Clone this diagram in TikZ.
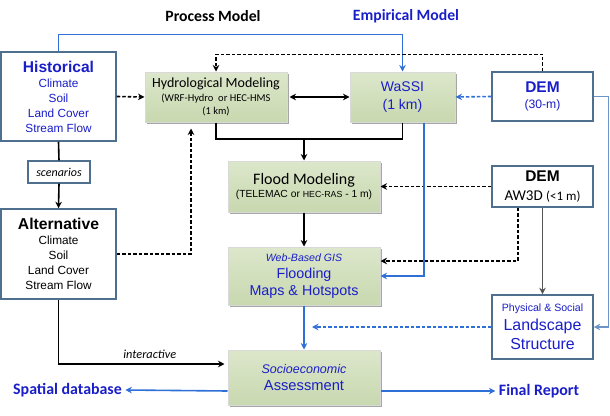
\documentclass[tikz,border=0pt]{standalone}
\usepackage{fontspec}
\setmainfont{Liberation Sans}
\newfontfamily\calfont{Carlito}
\usetikzlibrary{arrows.meta,shadows,calc}
\definecolor{txtblue}{HTML}{1A1EC8}
\definecolor{lineblue}{HTML}{2F6FD8}
\definecolor{lineblueb}{HTML}{6C94C8}
\definecolor{boxedge}{HTML}{4F6F8F}
\definecolor{greentop}{HTML}{DCE7CB}
\definecolor{greenbot}{HTML}{C8D8AF}
\definecolor{greyline}{HTML}{555555}
\newcommand\myfs[2]{\fontsize{#1}{#2}\selectfont}
\begin{document}
\begin{tikzpicture}[x=1pt,y=-1pt,
  outbox/.style={draw=boxedge, line width=1.5pt, fill=white, inner sep=0pt, align=center},
  greenbox/.style={draw=white!85!black, line width=1pt, top color=greentop, bottom color=greenbot,
    drop shadow={shadow xshift=1.5pt, shadow yshift=-1.5pt, opacity=0.35, fill=black},
    inner sep=0pt, align=center},
  arr/.style={-{Stealth[length=6.5pt,width=6.5pt]}, line width=1.6pt},
  dsh/.style={dash pattern=on 3.5pt off 2pt},
  lbl/.style={font=\calfont\bfseries\myfs{15.7}{16}}
]
\useasboundingbox (0,0) rectangle (610,415);

% titles
\node[lbl] (pm) at (213,16) {Process Model};
\node[lbl, text=txtblue] (em) at (406,16) {Empirical Model};

% left column
\node[outbox, minimum width=115pt, minimum height=89pt, text=txtblue, font=\myfs{11.8}{15}] (hist) at (58.5,96.5)
  {{\myfs{15.6}{15}\bfseries Historical}\\Climate\\Soil\\Land Cover\\Stream Flow};
\node[outbox, line width=1.1pt, minimum width=62pt, minimum height=22pt, font=\calfont\itshape\myfs{12}{14}] (scen) at (59,172) {scenarios};
\node[outbox, minimum width=115pt, minimum height=90pt, font=\myfs{11.8}{15}] (alt) at (58.5,254)
  {{\myfs{15.7}{15}\bfseries Alternative}\\Climate\\Soil\\Land Cover\\Stream Flow};

% green boxes
\node[greenbox, minimum width=142pt, minimum height=50pt, font=\calfont\myfs{10.5}{13.5}] (hydro) at (216,97)
  {{\myfs{14}{13.5}Hydrological Modeling}\\(WRF-Hydro\ \ or HEC-HMS\\(1 km)};
\node[greenbox, minimum width=105pt, minimum height=50pt, text=txtblue, font=\myfs{14}{18}] (wassi) at (402.5,97)
  {WaSSI\\(1 km)};
\node[greenbox, minimum width=152pt, minimum height=51pt, font=\myfs{10.3}{13.5}] (flood) at (304,186.5)
  {{\calfont\myfs{16}{13.5}Flood Modeling}\\(TELEMAC or {\myfs{8.8}{13.5}HEC-RAS} - 1 m)};
\node[greenbox, minimum width=152pt, minimum height=58pt, text=txtblue, font=\myfs{14.3}{17}] (gis) at (304,276)
  {{\itshape\myfs{10.6}{17}Web-Based GIS}\\Flooding\\Maps \& Hotspots};
\node[greenbox, minimum width=152pt, minimum height=55pt, text=txtblue, font=\myfs{14.7}{17.5}] (socio) at (304,377.5)
  {{\itshape\myfs{12.5}{17.5}Socioeconomic}\\Assessment};

% right column
\node[outbox, minimum width=101pt, minimum height=49pt, text=txtblue, font=\myfs{12.2}{16.8}] (dem30) at (542.5,96.5)
  {{\myfs{15.5}{16.8}\bfseries DEM}\\(30-m)};
\node[outbox, minimum width=101pt, minimum height=41pt, font=\calfont\myfs{15}{19}] (aw3d) at (542.5,186.5)
  {{\rmfamily\myfs{15.5}{19}\bfseries DEM}\\AW3D {\myfs{13}{19}(<1 m)}};
\node[outbox, minimum width=101pt, minimum height=64pt, text=txtblue, font=\myfs{15.9}{19}] (land) at (542.5,327)
  {{\myfs{10.6}{19}Physical \& Social}\\Landscape\\Structure};

% outputs
\node[lbl, text=txtblue, font=\calfont\bfseries\myfs{15.9}{16}] (sdb) at (67.5,390) {Spatial database};
\node[lbl, text=txtblue, font=\calfont\bfseries\myfs{15.9}{16}] (fr) at (539,391) {Final Report};

% coordinates
\coordinate (j1) at (304,139);
\coordinate (lsend) at (312,327);

% connectors
\draw[arr, lineblue, line width=1.4pt] (hist.north) -- ++(0,-17) -| (wassi.north);
\draw[line width=1.6pt] (hist.south) -- (scen.north);
\draw[arr] (scen.south) -- (alt.north);
\draw[arr, dsh] (hist.east) -- (hydro.west);
\draw[arr, dsh, shorten >=6pt] (alt.east) -| ($(hydro.south)+(-25,0)$);
\draw[arr, dsh, line width=1.3pt] (dem30.north) -- ++(0,-17) -| (hydro.north);
\draw[{Stealth[length=6.5pt,width=6.5pt]}-{Stealth[length=6.5pt,width=6.5pt]}, line width=1.6pt, shorten <=2pt] (hydro.east) -- (wassi.west);
\draw[arr, dsh, lineblue] (dem30.west) -- (wassi.east);
\draw[arr, lineblueb, line width=1.4pt] (dem30.east) -- ++(15,0) |- (land.east);
\draw[line width=1.6pt] (hydro.south) |- (j1);
\draw[line width=1.6pt] (wassi.south) |- (j1);
\draw[arr] (j1) -- (flood.north);
\draw[arr, dsh] (aw3d.west) -- (flood.east);
\draw[arr] (flood.south) -- (gis.north);
\draw[arr, lineblue] ($(wassi.south)+(21.5,0)$) |- (gis.east);
\draw[arr, dsh] ($(aw3d.south)+(-24.5,0)$) |- ($(gis.east)+(0,-15)$);
\draw[arr, greyline, line width=1.2pt] (aw3d.south) -- (land.north);
\draw[arr, dsh, lineblue] (land.west) -- (lsend);
\draw[arr, lineblue] (gis.south) -- (socio.north);
\draw[arr, shorten >=3pt, line width=1.2pt] (alt.south) |- node[pos=0.77, above=1pt, font=\calfont\itshape\myfs{12.3}{14}] {interactive} ($(socio.west)+(0,-13.5)$);
\draw[arr, lineblue] ($(socio.west)+(0,13.5)$) -- (sdb.east);
\draw[arr, lineblue] ($(socio.east)+(0,13.5)$) -- (fr.west);
\end{tikzpicture}
\end{document}
